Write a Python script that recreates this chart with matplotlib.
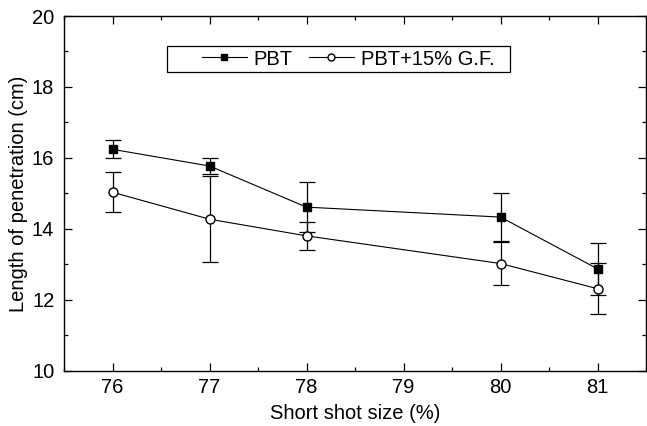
import matplotlib
matplotlib.use("Agg")
import matplotlib.pyplot as plt
from matplotlib.lines import Line2D
from matplotlib.patches import Rectangle
from matplotlib.ticker import MultipleLocator

plt.rcParams['font.family'] = ['Liberation Sans', 'DejaVu Sans']

# short shot size (%)
shot_size = [76, 77, 78, 80, 81]

# length of penetration (cm)
pbt = [16.24, 15.77, 14.61, 14.33, 12.87]
pbt_err = [0.25, 0.23, 0.70, 0.67, 0.74]

pbt_gf = [15.03, 14.27, 13.80, 13.02, 12.31]
pbt_gf_err = [0.57, 1.22, 0.40, 0.60, 0.72]

FS = 14.5


def main():
    fig = plt.figure(figsize=(6.47, 4.26), dpi=100)
    ax = fig.add_axes([0.099, 0.130, 0.8995, 0.8324])

    ax.errorbar(shot_size, pbt, yerr=pbt_err, color='black', marker='s',
                markersize=6, linewidth=0.8, elinewidth=0.9, capsize=5.5,
                capthick=0.9, markerfacecolor='black', zorder=3)
    ax.errorbar(shot_size, pbt_gf, yerr=pbt_gf_err, color='black', marker='o',
                markersize=6.5, linewidth=0.8, elinewidth=0.9, capsize=5.5,
                capthick=0.9, markerfacecolor='white', zorder=3)

    ax.set_xlim(75.5, 81.5)
    ax.set_ylim(10, 20)
    ax.xaxis.set_major_locator(MultipleLocator(1))
    ax.xaxis.set_minor_locator(MultipleLocator(0.5))
    ax.yaxis.set_major_locator(MultipleLocator(2))
    ax.yaxis.set_minor_locator(MultipleLocator(1))
    ax.tick_params(which='both', direction='in', top=True, right=True, width=0.9)
    ax.tick_params(which='major', length=6, labelsize=FS)
    ax.tick_params(axis='x', which='major', pad=5.5)
    ax.tick_params(axis='y', which='major', pad=7)
    ax.tick_params(which='minor', length=3)
    for sp in ax.spines.values():
        sp.set_linewidth(1.0)

    ax.set_xlabel('Short shot size (%)', fontsize=FS, labelpad=4.5)
    ax.set_ylabel('Length of penetration (cm)', fontsize=FS, labelpad=3)

    # legend without error bars, frame drawn separately
    handles = [
        Line2D([], [], color='black', linewidth=0.8, marker='s', markersize=4.5,
               markerfacecolor='black'),
        Line2D([], [], color='black', linewidth=0.8, marker='o', markersize=5,
               markerfacecolor='white'),
    ]
    ax.legend(handles, ['PBT', 'PBT+15% G.F.'], loc='center left',
              bbox_to_anchor=(0.2366, 0.8787), ncol=2, fontsize=FS,
              frameon=False, borderpad=0, borderaxespad=0,
              handlelength=2.23, handletextpad=0.35, columnspacing=0.8)
    ax.add_patch(Rectangle((0.1765, 0.842), 0.5898, 0.0733, transform=ax.transAxes,
                           fill=False, edgecolor='black', linewidth=0.9, zorder=4))

    fig.savefig('out.png', dpi=100)


if __name__ == "__main__":
    main()
